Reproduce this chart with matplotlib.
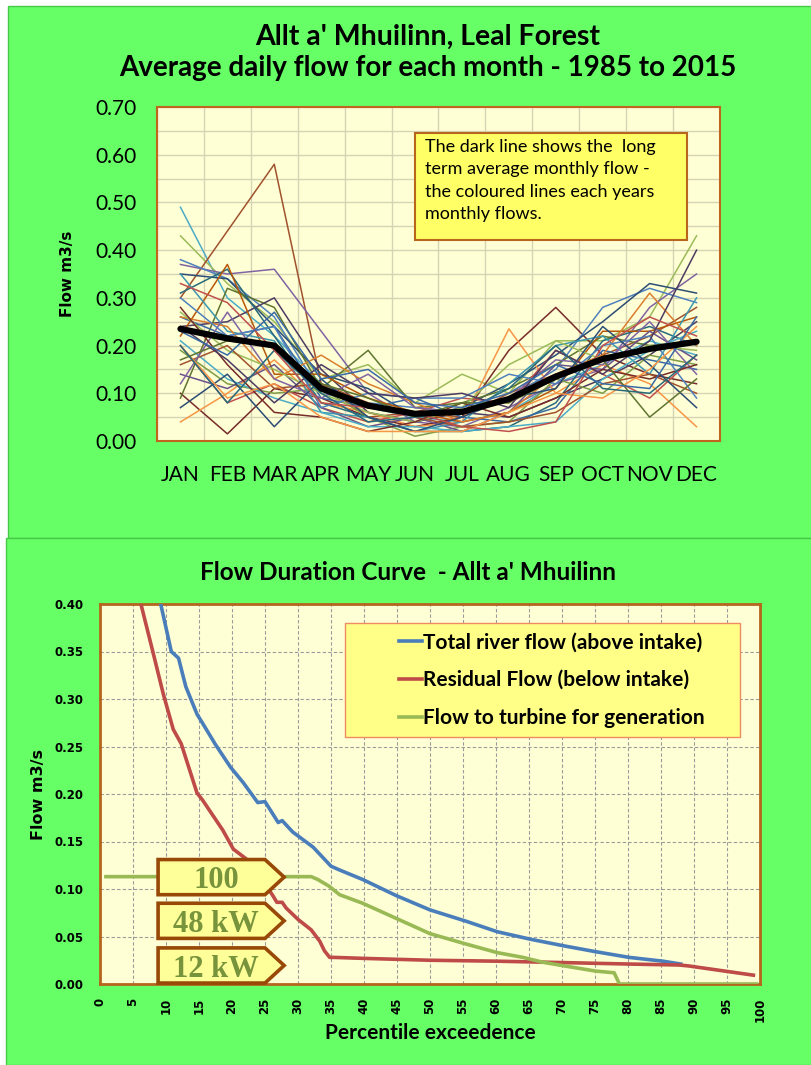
import matplotlib.pyplot as plt
import numpy as np
from matplotlib.patches import Rectangle, Polygon

# --- top chart: average daily flow for each month, one line per year ---
months = ['JAN', 'FEB', 'MAR', 'APR', 'MAY', 'JUN', 'JUL', 'AUG', 'SEP', 'OCT', 'NOV', 'DEC']
years = list(range(1985, 2016))
yearly_flows = [
    [0.49, 0.30, 0.22, 0.12, 0.07, 0.05, 0.04, 0.06, 0.12, 0.16, 0.21, 0.18],
    [0.43, 0.33, 0.25, 0.13, 0.16, 0.08, 0.14, 0.10, 0.21, 0.21, 0.26, 0.43],
    [0.30, 0.44, 0.58, 0.12, 0.05, 0.06, 0.05, 0.10, 0.14, 0.18, 0.22, 0.28],
    [0.37, 0.35, 0.36, 0.23, 0.10, 0.04, 0.03, 0.07, 0.12, 0.15, 0.28, 0.35],
    [0.10, 0.015, 0.11, 0.09, 0.05, 0.03, 0.05, 0.19, 0.28, 0.18, 0.14, 0.12],
    [0.38, 0.34, 0.26, 0.10, 0.08, 0.07, 0.06, 0.09, 0.15, 0.28, 0.32, 0.29],
    [0.35, 0.34, 0.24, 0.14, 0.11, 0.05, 0.07, 0.12, 0.18, 0.25, 0.33, 0.31],
    [0.04, 0.10, 0.17, 0.08, 0.06, 0.03, 0.04, 0.235, 0.10, 0.16, 0.12, 0.03],
    [0.09, 0.32, 0.28, 0.11, 0.19, 0.07, 0.08, 0.11, 0.16, 0.22, 0.20, 0.21],
    [0.24, 0.25, 0.30, 0.15, 0.06, 0.04, 0.06, 0.05, 0.09, 0.13, 0.18, 0.25],
    [0.31, 0.36, 0.22, 0.08, 0.05, 0.02, 0.02, 0.03, 0.08, 0.21, 0.24, 0.20],
    [0.20, 0.08, 0.12, 0.07, 0.04, 0.06, 0.09, 0.08, 0.19, 0.14, 0.09, 0.18],
    [0.26, 0.22, 0.24, 0.09, 0.07, 0.09, 0.05, 0.04, 0.07, 0.19, 0.17, 0.15],
    [0.22, 0.37, 0.14, 0.14, 0.09, 0.06, 0.04, 0.06, 0.11, 0.23, 0.23, 0.26],
    [0.19, 0.12, 0.10, 0.11, 0.05, 0.01, 0.03, 0.04, 0.13, 0.10, 0.18, 0.16],
    [0.14, 0.11, 0.16, 0.07, 0.03, 0.05, 0.02, 0.06, 0.16, 0.15, 0.23, 0.17],
    [0.35, 0.23, 0.21, 0.06, 0.05, 0.02, 0.04, 0.12, 0.20, 0.22, 0.14, 0.30],
    [0.26, 0.24, 0.13, 0.18, 0.12, 0.08, 0.04, 0.06, 0.14, 0.18, 0.31, 0.20],
    [0.21, 0.13, 0.09, 0.06, 0.03, 0.03, 0.02, 0.03, 0.04, 0.13, 0.19, 0.23],
    [0.27, 0.19, 0.15, 0.10, 0.06, 0.04, 0.07, 0.16, 0.21, 0.17, 0.20, 0.19],
    [0.16, 0.20, 0.11, 0.12, 0.08, 0.05, 0.03, 0.04, 0.06, 0.12, 0.14, 0.10],
    [0.12, 0.27, 0.13, 0.09, 0.14, 0.07, 0.06, 0.09, 0.17, 0.16, 0.25, 0.14],
    [0.28, 0.16, 0.06, 0.05, 0.02, 0.04, 0.08, 0.05, 0.09, 0.15, 0.13, 0.16],
    [0.30, 0.22, 0.24, 0.07, 0.10, 0.09, 0.09, 0.14, 0.12, 0.20, 0.22, 0.09],
    [0.07, 0.14, 0.03, 0.13, 0.05, 0.02, 0.05, 0.09, 0.11, 0.24, 0.16, 0.07],
    [0.20, 0.09, 0.12, 0.05, 0.02, 0.02, 0.02, 0.06, 0.10, 0.09, 0.15, 0.24],
    [0.17, 0.21, 0.20, 0.12, 0.09, 0.05, 0.08, 0.08, 0.13, 0.17, 0.05, 0.13],
    [0.24, 0.17, 0.08, 0.16, 0.10, 0.09, 0.10, 0.07, 0.19, 0.14, 0.21, 0.40],
    [0.20, 0.08, 0.19, 0.10, 0.04, 0.05, 0.06, 0.11, 0.20, 0.11, 0.10, 0.18],
    [0.33, 0.29, 0.19, 0.08, 0.07, 0.06, 0.03, 0.02, 0.04, 0.20, 0.26, 0.22],
    [0.23, 0.18, 0.27, 0.13, 0.15, 0.08, 0.07, 0.10, 0.16, 0.12, 0.11, 0.26],
]
long_term_avg = [0.235, 0.215, 0.200, 0.110, 0.074, 0.057, 0.061, 0.088, 0.135, 0.172, 0.193, 0.208]

# --- bottom chart: flow duration curve ---
total_pct = [9.2, 10.8, 11.9, 13.0, 14.7, 15.5, 17.5, 19.8, 21.7, 23.9, 25.0, 27.0, 27.6,
             29.2, 32.3, 35.0, 36.3, 39.8, 44.9, 50.0, 55.5, 60.2, 65.3, 70.4, 75.1, 80.2, 85.3, 88.0]
total_flow = [0.400, 0.350, 0.343, 0.313, 0.284, 0.275, 0.252, 0.228, 0.212, 0.191, 0.192, 0.170, 0.172,
              0.160, 0.144, 0.124, 0.120, 0.110, 0.093, 0.078, 0.066, 0.055, 0.047, 0.040, 0.034, 0.028, 0.024, 0.021]
resid_pct = [6.2, 8.0, 9.6, 11.1, 12.3, 14.7, 15.5, 18.6, 20.2, 22.1, 24.0, 25.5, 26.1, 26.8, 27.6,
             28.2, 30.0, 32.0, 33.3, 34.0, 34.8, 35.5, 39.8, 50.0, 60.2, 70.4, 80.2, 87.7, 89.2, 99.0]
resid_flow = [0.400, 0.350, 0.305, 0.268, 0.253, 0.201, 0.194, 0.162, 0.142, 0.132, 0.115, 0.100, 0.094, 0.086, 0.086,
              0.080, 0.068, 0.057, 0.045, 0.035, 0.028, 0.028, 0.027, 0.025, 0.024, 0.0225, 0.021, 0.020, 0.019, 0.0093]
turb_pct = [0.9, 32.0, 33.0, 34.7, 36.3, 39.8, 44.9, 50.0, 55.5, 60.2, 64.1, 67.0, 70.4, 75.1, 77.9, 78.7, 99.5]
turb_flow = [0.113, 0.113, 0.110, 0.103, 0.094, 0.085, 0.069, 0.053, 0.042, 0.033, 0.028, 0.023, 0.019, 0.0136, 0.0118, 0.0, 0.0]
series_names = ['Total river flow (above intake)', 'Residual Flow (below intake)', 'Flow to turbine for generation']
power_labels = ['100', '48 kW', '12 kW']

GREEN = '#66FF66'
PLOT_BG = '#FFFFD6'
FONT = ['Lato', 'DejaVu Sans']
# Excel-style series colours
excel = ['#4BACC6', '#9BBB59', '#A0522D', '#8064A2', '#772C2A', '#4F81BD',
         '#2C4D75', '#F79646', '#5F7530', '#4D3B62', '#276A7C', '#C0504D',
         '#3A6AA6', '#B65708', '#7E9C45', '#6A528A', '#3C97AF', '#D97E2E']

W, H = 812, 1065
fig = plt.figure(figsize=(W / 100, H / 100), dpi=100, facecolor='white')


def rect(x0, y0, x1, y1):
    # pixel box, top-left origin -> figure fraction [l, b, w, h]
    return [x0 / W, 1 - y1 / H, (x1 - x0) / W, (y1 - y0) / H]


for box in [(8, 6, 812, 538), (6, 538, 812, 1065)]:
    l, b, w, h = rect(*box)
    fig.add_artist(Rectangle((l, b), w, h, transform=fig.transFigure,
                             fc=GREEN, ec='#48C848', lw=1, zorder=-5))

# ---------------- top chart ----------------
ax1 = fig.add_axes(rect(157, 107, 720, 441))
ax1.set_facecolor(PLOT_BG)
x = np.arange(len(months))
for i, row in enumerate(yearly_flows):
    ax1.plot(x, row, color=excel[i % len(excel)], lw=1.1)
ax1.plot(x, long_term_avg, color='black', lw=4.5, solid_capstyle='round', zorder=5)
ax1.set_xlim(-0.5, 11.5)
ax1.set_ylim(0, 0.7)
ax1.set_xticks(x, months, family=FONT, fontsize=15)
ax1.set_xticks(np.arange(-0.5, 12, 1), minor=True)
ax1.set_yticks(np.arange(0, 0.71, 0.1))
ax1.set_yticks(np.arange(0, 0.71, 0.05), minor=True)
ax1.set_yticklabels(['%.2f' % v for v in np.arange(0, 0.71, 0.1)], family=FONT, fontsize=15)
ax1.tick_params(which='both', length=0)
ax1.tick_params(axis='x', pad=17)
ax1.tick_params(axis='y', pad=15)
ax1.grid(which='minor', color='#D6D2B4', lw=1.0)
ax1.grid(which='major', axis='y', color='#D6D2B4', lw=1.0)
ax1.set_axisbelow(True)
for s in ax1.spines.values():
    s.set_color('#C0651E')
    s.set_linewidth(1.5)
ax1.set_ylabel('Flow m3/s', fontsize=11, fontweight='bold', labelpad=14)
fig.text(0.527, 1 - 37 / H, "Allt a' Mhuilinn, Leal Forest", ha='center', va='center',
         family=FONT, fontsize=20.5, fontweight='bold')
fig.text(0.527, 1 - 68 / H, 'Average daily flow for each month - 1985 to 2015', ha='center', va='center',
         family=FONT, fontsize=20, fontweight='bold')

ax1.add_patch(Rectangle((0.458, 0.602), 0.483, 0.32, transform=ax1.transAxes,
                        fc='#FFFF66', ec='#B8651E', lw=1.5, zorder=6))
ax1.text(0.476, 0.905, 'The dark line shows the  long\nterm average monthly flow -\n'
         'the coloured lines each years\nmonthly flows.', transform=ax1.transAxes,
         ha='left', va='top', family=FONT, fontsize=13, linespacing=1.5, zorder=7)

# ---------------- bottom chart ----------------
ax2 = fig.add_axes(rect(100, 604, 760, 984))
ax2.set_facecolor(PLOT_BG)
l1, = ax2.plot(total_pct, total_flow, color='#4A7EBB', lw=2.6, zorder=3)
l2, = ax2.plot(resid_pct, resid_flow, color='#BE4B48', lw=2.6, zorder=3)
l3, = ax2.plot(turb_pct, turb_flow, color='#98B954', lw=2.6, zorder=3)
ax2.set_xlim(0, 100)
ax2.set_ylim(0, 0.4)
ax2.set_xticks(np.arange(0, 101, 5))
ax2.set_yticks(np.arange(0, 0.41, 0.05))
ax2.set_yticklabels(['%.2f' % v for v in np.arange(0, 0.41, 0.05)])
for lab in ax2.get_xticklabels():
    lab.set_rotation(90)
for lab in ax2.get_xticklabels() + ax2.get_yticklabels():
    lab.set_fontsize(8.5)
    lab.set_fontweight('bold')
ax2.tick_params(which='both', length=0)
ax2.tick_params(axis='x', pad=10)
ax2.tick_params(axis='y', pad=12)
ax2.grid(color='#9A9A9A', lw=0.8, ls=(0, (3, 2)))
ax2.set_axisbelow(True)
for s in ax2.spines.values():
    s.set_color('#B5651D')
    s.set_linewidth(2)
ax2.set_ylabel('Flow m3/s', fontsize=11.5, fontweight='bold', labelpad=6)
ax2.set_xlabel('Percentile exceedence', family=FONT, fontsize=15, fontweight='bold')
ax2.xaxis.set_label_coords((430 - 100) / 660, -(1023 - 984) / 380)
fig.text(408 / W, 1 - 572 / H, "Flow Duration Curve  - Allt a' Mhuilinn", ha='center', va='center',
         family=FONT, fontsize=17.5, fontweight='bold')

# legend box
ax2.add_patch(Rectangle(((345 - 100) / 660, (984 - 737) / 380), 395 / 660, 114 / 380,
                        transform=ax2.transAxes, fc='#FFFF88', ec='#F08A60', lw=1, zorder=6))
leg = ax2.legend([l1, l2, l3], series_names, loc='upper left',
                 bbox_to_anchor=((389 - 100) / 660, (984 - 622) / 380), frameon=False,
                 prop={'family': FONT, 'size': 15, 'weight': 'bold'},
                 handlelength=1.1, handletextpad=0.05, labelspacing=0.85, borderpad=0)
leg.set_zorder(7)

# power label boxes (arrow shapes)
boxes = [(0.094, 0.131), (0.048, 0.085), (0.001, 0.038)]
for (lo, hi), txt in zip(boxes, power_labels):
    mid = (lo + hi) / 2
    ax2.add_patch(Polygon([(8.8, lo), (8.8, hi), (25.0, hi), (27.9, mid), (25.0, lo)],
                          closed=True, fc='#FFFF99', ec='#984807', lw=2.6, zorder=8, clip_on=False))
    ax2.text(17.6, mid - 0.004, txt, ha='center', va='center', family='Liberation Serif',
             fontsize=22, fontweight='bold', color='#77933C', zorder=9)

fig.savefig('out.png', dpi=100, facecolor='white')
